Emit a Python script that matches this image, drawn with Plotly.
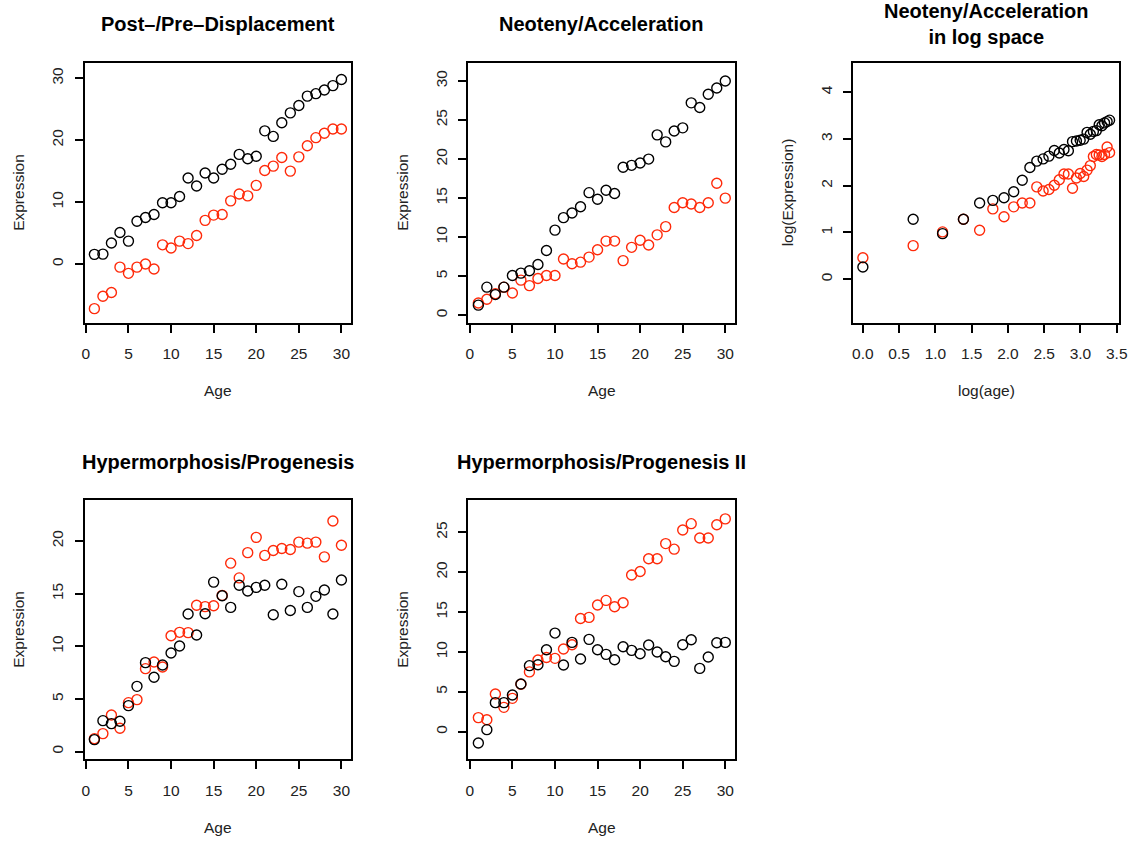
import numpy as np
import plotly.graph_objects as go

age = list(range(1, 31))

p1_black = [1.56, 1.6, 3.4, 5.1, 3.7, 6.9, 7.5, 8.0, 9.9, 9.9, 10.9, 13.9, 12.6, 14.7, 13.9,
            15.3, 16.1, 17.7, 17.0, 17.4, 21.5, 20.6, 22.8, 24.4, 25.6, 27.1, 27.5, 28.1, 28.8, 29.8]
p1_red = [-7.2, -5.2, -4.6, -0.5, -1.5, -0.5, 0.0, -0.8, 3.1, 2.6, 3.7, 3.3, 4.6, 7.05, 7.9,
          8.0, 10.2, 11.3, 11.0, 12.7, 15.1, 15.8, 17.2, 15.0, 17.3, 19.1, 20.4, 21.1, 21.8, 21.8]

p2_black = [1.3, 3.6, 2.65, 3.6, 5.1, 5.4, 5.7, 6.5, 8.3, 10.9, 12.5, 13.1, 13.9, 15.7, 14.85,
            16.0, 15.6, 18.95, 19.2, 19.5, 20.0, 23.1, 22.2, 23.6, 24.0, 27.2, 26.6, 28.3, 29.1, 30.0]
p2_red = [1.58, 2.05, 2.75, 3.6, 2.85, 4.5, 3.8, 4.7, 5.1, 5.1, 7.2, 6.6, 6.8, 7.45, 8.4,
          9.5, 9.5, 7.0, 8.7, 9.6, 9.0, 10.3, 11.35, 13.8, 14.4, 14.25, 13.8, 14.4, 16.9, 15.0]

p4_black = [1.14, 2.94, 2.66, 2.88, 4.37, 6.2, 8.45, 7.06, 8.23, 9.37, 10.03, 13.07, 11.08, 13.1, 16.1,
            14.8, 13.7, 15.8, 15.25, 15.6, 15.8, 13.0, 15.9, 13.4, 15.2, 13.7, 14.75, 15.35, 13.07, 16.3]
p4_red = [1.23, 1.71, 3.48, 2.22, 4.65, 4.94, 7.88, 8.51, 8.04, 11.0, 11.33, 11.3, 13.9, 13.77, 13.86,
          14.84, 17.9, 16.5, 18.9, 20.35, 18.64, 19.1, 19.3, 19.2, 19.9, 19.8, 19.9, 18.5, 21.9, 19.6]

p5_black = [-1.42, 0.25, 3.64, 3.64, 4.6, 5.98, 8.28, 8.4, 10.28, 12.37, 8.36, 11.2, 9.11, 11.58, 10.28,
            9.7, 9.03, 10.66, 10.2, 9.78, 10.87, 10.0, 9.4, 8.82, 10.9, 11.54, 7.94, 9.36, 11.16, 11.2]
p5_red = [1.76, 1.5, 4.72, 3.05, 4.18, 5.94, 7.5, 9.0, 9.3, 9.2, 10.37, 10.9, 14.2, 14.34, 15.9,
          16.47, 15.68, 16.18, 19.65, 20.1, 21.7, 21.7, 23.6, 22.9, 25.3, 26.1, 24.3, 24.3, 25.96, 26.7]

titles = ["Post\u2013/Pre\u2013Displacement", "Neoteny/Acceleration",
          "Neoteny/Acceleration<br>in log space", "Hypermorphosis/Progenesis",
          "Hypermorphosis/Progenesis II"]
xlabels = ["Age", "Age", "log(age)", "Age", "Age"]
ylabels = ["Expression", "Expression", "log(Expression)", "Expression", "Expression"]

x_age_ticks = [0, 5, 10, 15, 20, 25, 30]
x_log_ticks = [0.0, 0.5, 1.0, 1.5, 2.0, 2.5, 3.0, 3.5]
y_ticks = [[0, 10, 20, 30], [0, 5, 10, 15, 20, 25, 30], [0, 1, 2, 3, 4],
           [0, 5, 10, 15, 20], [0, 5, 10, 15, 20, 25]]

W, H = 1140, 841
boxes = [(82.3, 351.7, 62.7, 322.7), (470.0, 739.3, 62.7, 322.7), (858.3, 1127.3, 62.7, 322.7),
         (82.3, 351.7, 500.0, 759.3), (470.0, 739.3, 500.0, 759.3)]
yranges = [[-9.47, 32.5], [-0.95, 32.34], [-0.93, 4.63], [-0.73, 23.9], [-3.47, 29.07]]
xr_age = [-0.16, 31.16]
xr_log = [-0.136, 3.537]

log_age = np.log(np.array(age)).tolist()
series = [
    (age, p1_black, p1_red),
    (age, p2_black, p2_red),
    (log_age, np.log(np.array(p2_black)).tolist(), np.log(np.array(p2_red)).tolist()),
    (age, p4_black, p4_red),
    (age, p5_black, p5_red),
]

RED = "#ff2a0a"
FONT = "Liberation Sans, Arial, Helvetica, sans-serif"
fig = go.Figure()
annotations = []
layout = dict(width=W, height=H, margin=dict(l=0, r=0, t=0, b=0),
              paper_bgcolor="white", plot_bgcolor="white", showlegend=False,
              font=dict(family=FONT, size=15.5, color="black"))

for i, (xs, yb, yr) in enumerate(series):
    n = i + 1
    xa = "x" if n == 1 else f"x{n}"
    ya = "y" if n == 1 else f"y{n}"
    mk = dict(symbol="circle-open", size=10)
    fig.add_trace(go.Scatter(x=xs, y=yr, mode="markers", xaxis=xa, yaxis=ya,
                             marker=dict(**mk, color=RED, line=dict(width=1.4, color=RED))))
    fig.add_trace(go.Scatter(x=xs, y=yb, mode="markers", xaxis=xa, yaxis=ya,
                             marker=dict(**mk, color="black", line=dict(width=1.4, color="black"))))
    x0, x1, y0, y1 = boxes[i]
    dom_x = [x0 / W, x1 / W]
    dom_y = [1 - y1 / H, 1 - y0 / H]
    islog = (i == 2)
    xkey = "xaxis" if n == 1 else f"xaxis{n}"
    ykey = "yaxis" if n == 1 else f"yaxis{n}"
    layout[xkey] = dict(domain=dom_x, anchor=ya, range=xr_log if islog else xr_age,
                        tickmode="array", tickvals=x_log_ticks if islog else x_age_ticks,
                        tickformat=".1f" if islog else "d",
                        showgrid=False, zeroline=False, showline=True, mirror=True,
                        linecolor="black", linewidth=2, ticks="outside", ticklen=8,
                        tickwidth=1.5, tickcolor="black", ticklabelstandoff=8,
                        tickfont=dict(family=FONT, size=15.5, color="#222"))
    layout[ykey] = dict(domain=dom_y, anchor=xa, range=yranges[i],
                        tickmode="array", tickvals=y_ticks[i], tickangle=-90,
                        showgrid=False, zeroline=False, showline=True, mirror=True,
                        linecolor="black", linewidth=2, ticks="outside", ticklen=8,
                        tickwidth=1.5, tickcolor="black", ticklabelstandoff=5,
                        tickfont=dict(family=FONT, size=15.5, color="#222"))
    cx = (x0 + x1) / 2
    annotations.append(dict(text="<b>" + titles[i] + "</b>", x=cx / W, y=1 - (y0 - 38.5) / H,
                            xref="paper", yref="paper", xanchor="center", yanchor="middle",
                            showarrow=False, font=dict(family=FONT, size=20, color="black")))
    annotations.append(dict(text=xlabels[i], x=cx / W, y=1 - (y1 + 68) / H,
                            xref="paper", yref="paper", xanchor="center", yanchor="middle",
                            showarrow=False, font=dict(family=FONT, size=15.5, color="#222")))
    annotations.append(dict(text=ylabels[i], x=(x0 - 66) / W, y=1 - ((y0 + y1) / 2) / H,
                            xref="paper", yref="paper", xanchor="center", yanchor="middle",
                            textangle=-90, showarrow=False,
                            font=dict(family=FONT, size=15.5, color="#222")))

layout["annotations"] = annotations
fig.update_layout(**layout)
fig.write_html("out.html")
